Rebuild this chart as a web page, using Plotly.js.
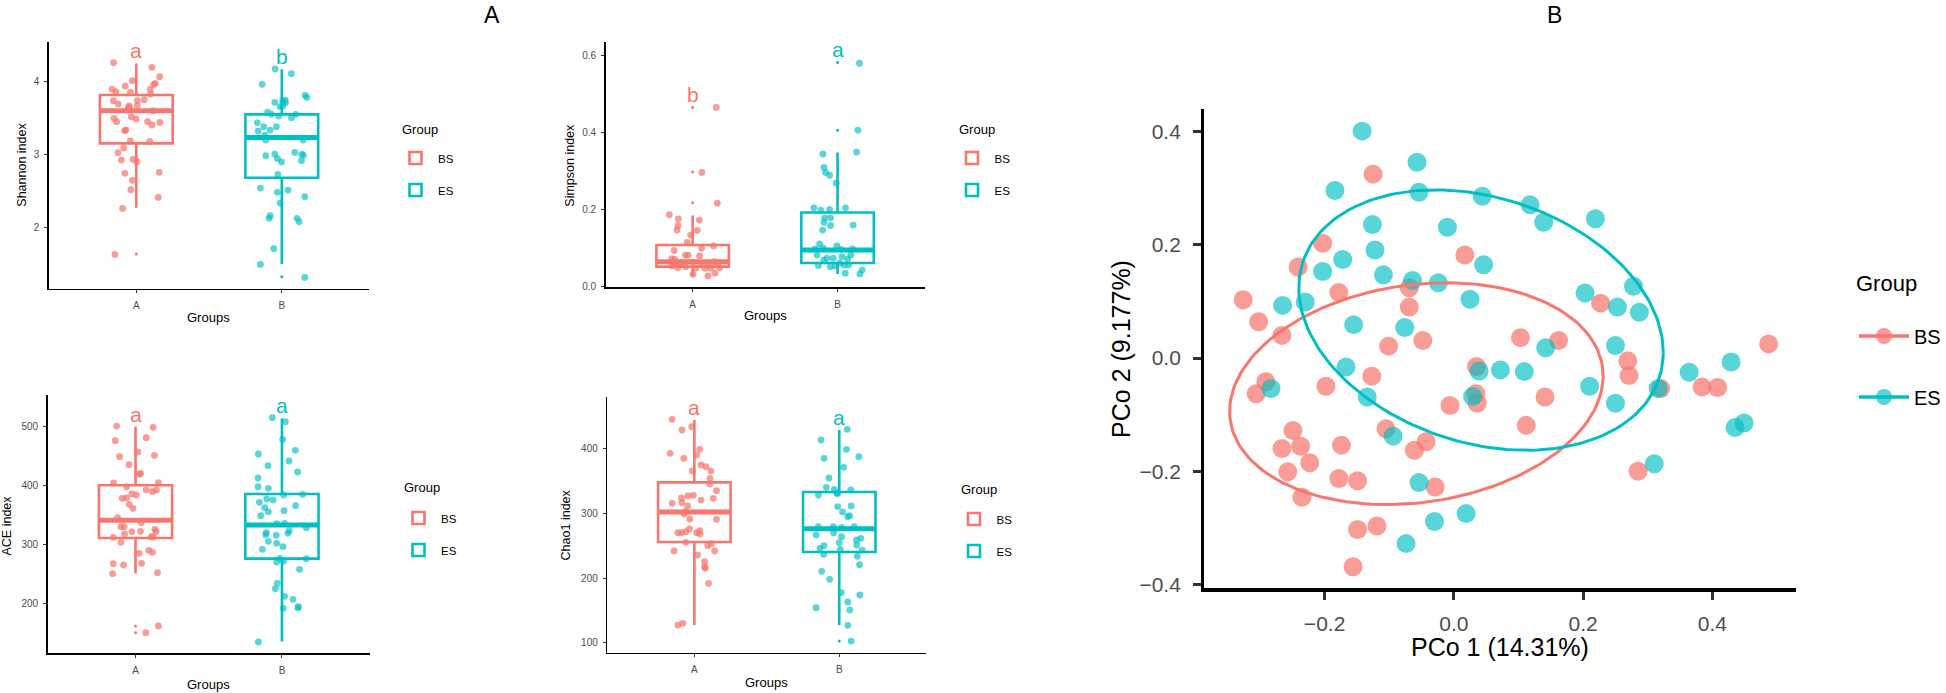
<!DOCTYPE html>
<html><head><meta charset="utf-8">
<script src="https://cdn.plot.ly/plotly-3.0.1.min.js"></script>
<style>html,body{margin:0;padding:0;background:#fff}#chart{width:1946px;height:693px}</style>
</head><body><div id="chart"></div>
<script>
// ---------------- DATA ----------------
const categories = ['A', 'B'];
const groups = ['BS', 'ES'];

// Shannon
const shannonBS = [4.261,4.197,4.069,4.014,3.977,3.959,3.940,3.899,3.863,3.895,3.853,3.831,3.739,3.753,3.739,3.693,3.666,3.666,3.634,3.647,3.602,3.519,3.496,3.451,3.487,3.451,3.441,3.405,3.336,3.327,3.185,3.180,3.089,3.025,2.924,2.933,2.901,2.741,2.755,2.645,2.516,2.411,2.260,1.628];
const shannonBSJitter = [-0.156,0.108,0.160,-0.027,0.130,0.119,-0.076,-0.167,-0.140,0.096,-0.041,0.098,-0.158,0.055,0.007,-0.124,-0.050,0.007,-0.055,-0.046,0.117,-0.034,-0.153,-0.135,0,0.078,0.163,0.108,-0.071,-0.080,-0.041,0.092,-0.087,-0.126,-0.103,-0.023,0.005,-0.078,0.158,-0.027,-0.037,0.151,-0.094,-0.147];
const shannonES = [4.174,4.110,3.963,3.812,3.785,3.716,3.734,3.748,3.712,3.666,3.657,3.583,3.551,3.528,3.551,3.505,3.437,3.382,3.322,3.336,3.382,3.267,3.199,3.199,3.006,2.984,3.029,3.006,2.988,2.942,2.897,2.915,2.727,2.539,2.512,2.480,2.420,2.333,2.159,2.123,2.123,2.077,1.706,1.491,1.312];
const shannonESJitter = [-0.046,0.066,-0.135,0.160,0.172,-0.048,0.005,0.023,0.025,0.007,-0.011,-0.098,-0.071,-0.021,0.096,0.066,-0.169,-0.124,-0.163,-0.080,-0.037,-0.117,-0.110,0.147,-0.048,-0.110,0.089,0.137,0.149,-0.030,-0.002,0.135,-0.027,-0.147,0.043,-0.030,0.158,-0.011,-0.080,-0.087,0.105,0.119,-0.055,-0.147,0.158];
const shannonQ1 = [3.153, 2.681];
const shannonMedian = [3.600, 3.235];
const shannonQ3 = [3.817, 3.551];
const shannonLower = [2.270, 1.495];
const shannonUpper = [4.250, 4.170];
const shannonOutBS = [1.633];
const shannonOutES = [1.320];
const shannonLetters = ['a', 'b'];

// Simpson
const simpsonBS = [0.466,0.297,0.217,0.187,0.176,0.173,0.159,0.147,0.146,0.134,0.115,0.106,0.094,0.100,0.082,0.082,0.080,0.073,0.071,0.063,0.061,0.063,0.064,0.061,0.061,0.065,0.061,0.054,0.049,0.052,0.048,0.048,0.048,0.032,0.028,0.035,0.049];
const simpsonBSJitter = [0.163,0.064,0.170,-0.161,-0.099,0.046,-0.101,-0.108,0.032,-0.014,-0.037,0.144,-0.128,0.062,-0.050,-0.030,0.048,-0.144,-0.122,-0.133,-0.092,-0.067,0,0.060,0.108,0.149,0.172,-0.144,-0.103,-0.048,0.021,0.085,0.124,0.002,0.106,0.154,0.186];
const simpsonES = [0.581,0.407,0.350,0.345,0.310,0.297,0.290,0.269,0.205,0.199,0.201,0.205,0.179,0.179,0.167,0.159,0.160,0.147,0.111,0.106,0.098,0.100,0.097,0.098,0.082,0.074,0.074,0.078,0.082,0.072,0.069,0.061,0.055,0.052,0.054,0.056,0.056,0.043,0.035,0.033];
const simpsonESJitter = [0.151,0.140,0.131,-0.101,-0.094,-0.083,-0.055,-0.009,-0.163,-0.115,-0.055,0.055,-0.089,-0.048,-0.094,-0.048,0.108,-0.103,-0.124,-0.005,-0.156,-0.099,0.023,0.103,-0.142,-0.073,-0.030,0.030,0.092,0.069,-0.096,0.016,-0.133,-0.050,-0.016,0.046,0.076,0.170,0.053,0.154];
const simpsonQ1 = [0.052, 0.0616];
const simpsonMedian = [0.065, 0.095];
const simpsonQ3 = [0.1084, 0.193];
const simpsonLower = [0.028, 0.033];
const simpsonUpper = [0.1847, 0.349];
const simpsonOutBS = [0.466, 0.298, 0.218];
const simpsonOutES = [0.583, 0.407];
const simpsonLetters = ['b', 'a'];

// ACE
const aceBS = [501.1,498.9,481.4,476.3,457.1,451.4,449.2,435.6,420.9,419.2,404.5,405.1,398.3,392.7,389.8,392.7,384.2,385.9,379.1,378.5,368.4,361.6,345.8,330.5,330.5,337.3,322.0,322.6,318.1,326.0,322.0,313.6,313.0,312.4,303.9,285.3,290.4,287.0,267.8,268.4,265.5,250.8,252.5,162.1,150.8];
const aceBSJitter = [-0.129,0.120,0.073,-0.138,0.016,0.129,-0.109,-0.045,0.034,0.027,-0.150,0.156,-0.061,0.073,0.116,0.143,0.005,-0.025,-0.061,-0.091,-0.043,-0.018,-0.122,-0.100,-0.077,0.039,-0.025,0.034,-0.075,0.132,0.141,0.107,0.118,-0.152,-0.100,0.025,0.091,0.116,-0.152,0.041,-0.082,-0.156,0.150,0.156,0.070];
const aceES = [515.3,508.5,478.5,459.9,453.7,441.8,433.9,423.2,413.0,398.3,395.5,384.2,385.3,377.4,375.7,371.8,366.1,362.7,355.9,357.6,349.2,335.6,336.2,320.3,315.8,316.9,319.2,323.7,328.8,305.6,302.3,296.6,292.1,276.8,270.6,272.3,276.3,258.2,234.5,225.4,212.4,207.3,194.9,192.7,192.1,135.0];
const aceESJitter = [-0.066,0.023,0.005,0.091,-0.161,0.048,-0.095,0.107,-0.163,-0.163,-0.093,0.011,0.141,-0.104,-0.061,-0.154,0.093,-0.118,-0.093,0.014,-0.145,-0.036,0.018,-0.107,-0.039,-0.111,0.041,0.050,0.166,-0.093,-0.036,0.007,-0.134,-0.016,-0.036,0.011,0.166,0.120,-0.032,-0.045,0.018,0.075,0.113,0.109,0.009,-0.161];
const aceQ1 = [311.3, 276.3];
const aceMedian = [341.2, 333.3];
const aceQ3 = [400.6, 385.9];
const aceLower = [251.4, 135.6];
const aceUpper = [500.0, 514.0];
const aceOutBS = [162.1, 150.8];
const aceOutES = [];
const aceLetters = ['a', 'a'];

// Chao1
const chaoBS = [445.3,428.8,434.0,399.0,392.8,390.2,385.1,374.8,372.2,365.5,354.2,345.4,365.5,335.2,323.8,326.9,327.9,315.6,316.6,311.5,320.7,323.3,303.2,299.1,291.4,290.9,270.3,270.3,271.9,276.0,273.4,268.2,270.3,255.4,250.2,253.3,242.0,235.8,242.0,225.5,215.2,217.8,192.1,127.7,130.3];
const chaoBSJitter = [-0.153,-0.085,-0.018,0.037,-0.167,0.016,-0.073,0.046,0.080,0.114,0.108,0.108,-0.014,0.153,-0.089,-0.043,-0.007,-0.153,-0.085,-0.046,0.046,0.130,-0.062,-0.071,-0.032,0.153,-0.114,-0.089,-0.059,-0.034,0.037,0.039,0.016,-0.059,0.092,0.117,-0.140,0.021,0.140,0.071,0.076,0.071,0.098,-0.114,-0.080];
const chaoES = [429.9,413.4,399.0,387.6,385.1,371.2,354.7,340.3,337.2,331.0,328.5,336.2,331.0,302.2,311.5,310.4,296.6,295.0,279.6,279.6,278.5,279.6,266.7,270.3,264.1,259.0,261.6,254.9,250.2,246.1,251.3,243.5,236.8,244.6,233.8,220.9,210.6,198.3,177.7,174.1,163.3,154.5,150.9,127.2,103.0];
const chaoESJitter = [0.055,-0.126,0.050,0.135,-0.105,0.030,-0.071,-0.089,-0.034,-0.011,-0.144,0.080,-0.016,0.023,0.082,-0.011,0.071,0.059,-0.144,-0.041,0.016,0.103,-0.160,-0.039,0.016,0.119,0.149,0,-0.105,-0.133,0.121,0.158,-0.108,0.007,0.124,0.140,-0.121,-0.066,0.014,0.142,0.059,-0.160,0.073,0.059,0.082];
const chaoQ1 = [255.9, 240.5];
const chaoMedian = [302.2, 276.5];
const chaoQ3 = [348.0, 333.1];
const chaoLower = [127.7, 127.7];
const chaoUpper = [444.3, 428.8];
const chaoOutBS = [];
const chaoOutES = [103.0];
const chaoLetters = ['a', 'a'];

// PCoA
const pcoaBSx = [-0.125,-0.203,0.017,-0.241,-0.178,-0.069,-0.326,-0.069,-0.302,-0.266,0.103,-0.101,-0.048,0.227,0.162,0.269,0.271,0.320,0.384,0.408,0.487,-0.127,0.035,-0.291,-0.306,-0.198,0.034,0.036,-0.006,0.141,0.112,-0.249,-0.105,-0.266,-0.237,-0.174,-0.043,-0.061,-0.223,-0.257,-0.178,-0.149,-0.029,-0.235,-0.149,-0.119,-0.156,0.285];
const pcoaBSy = [0.325,0.203,0.182,0.161,0.116,0.124,0.103,0.090,0.064,0.040,0.036,0.021,0.031,0.097,0.031,-0.005,-0.031,-0.054,-0.051,-0.052,0.025,-0.032,-0.015,-0.042,-0.063,-0.050,-0.063,-0.080,-0.084,-0.069,-0.119,-0.128,-0.125,-0.160,-0.156,-0.154,-0.148,-0.163,-0.185,-0.201,-0.213,-0.217,-0.228,-0.246,-0.303,-0.297,-0.369,-0.200];
const pcoaESx = [-0.142,-0.057,-0.184,-0.054,0.044,0.118,0.139,-0.126,-0.010,-0.122,-0.172,0.046,-0.203,-0.109,-0.064,-0.024,-0.265,-0.230,0.025,-0.155,-0.076,0.142,0.219,0.278,0.203,0.253,0.287,0.250,0.210,0.250,0.316,0.364,0.429,0.435,0.449,-0.167,0.039,0.072,0.109,-0.283,-0.134,0.029,-0.094,-0.054,0.019,-0.030,-0.074,0.310];
const pcoaESy = [0.401,0.346,0.296,0.293,0.286,0.271,0.240,0.236,0.231,0.191,0.174,0.165,0.153,0.147,0.137,0.133,0.093,0.099,0.104,0.059,0.054,0.018,0.246,0.127,0.115,0.090,0.081,0.022,-0.050,-0.080,-0.054,-0.025,-0.007,-0.123,-0.115,-0.016,-0.023,-0.021,-0.024,-0.054,-0.069,-0.068,-0.138,-0.220,-0.275,-0.289,-0.328,-0.187];
// 95% ellipses: centre [x, y] and covariance [sxx, sxy, syy]
const bsEllipseCenter = [-0.058, -0.063];
const bsEllipseCov = [0.0835, 0.0090, 0.0384];
const esEllipseCenter = [0.042, 0.067];
const esEllipseCov = [0.0795, -0.0161, 0.0529];

// ---------------- STYLE / LAYOUT ----------------
const FONT = 'Arial, "Liberation Sans", Helvetica, sans-serif';
const RED = '#F8766D', TEAL = '#00BFC4';
const RED_A = 'rgba(248,118,109,0.72)', TEAL_A = 'rgba(0,191,196,0.66)';
const W = 1946, H = 693;
const fx = p => p / W, fy = p => 1 - p / H;

const panels = [
  {n:'', yTitle:'Shannon index', xpx:[49,369.3], ypx:[41.7,288.7], yrange:[1.157,4.549], ytv:[2,3,4], ytt:['2','3','4'],
   legend:'legend', yTitlePos:[21.7,165], xTitlePos:[209,317], legTitle:[400,130], legPos:[393,143.5],
   bs:shannonBS, bsj:shannonBSJitter, es:shannonES, esj:shannonESJitter, q1:shannonQ1, med:shannonMedian, q3:shannonQ3, lo:shannonLower, hi:shannonUpper, oBS:shannonOutBS, oES:shannonOutES, let:shannonLetters},
  {n:'2', yTitle:'Simpson index', xpx:[606,925], ypx:[41.7,287.3], yrange:[-0.0017,0.637], ytv:[0,0.2,0.4,0.6], ytt:['0.0','0.2','0.4','0.6'],
   legend:'legend2', yTitlePos:[570,165], xTitlePos:[765.7,316], legTitle:[957,130], legPos:[949.5,143.5],
   bs:simpsonBS, bsj:simpsonBSJitter, es:simpsonES, esj:simpsonESJitter, q1:simpsonQ1, med:simpsonMedian, q3:simpsonQ3, lo:simpsonLower, hi:simpsonUpper, oBS:simpsonOutBS, oES:simpsonOutES, let:simpsonLetters},
  {n:'3', yTitle:'ACE index', xpx:[47.7,370], ypx:[395,653.3], yrange:[115.8,553.7], ytv:[200,300,400,500], ytt:['200','300','400','500'],
   legend:'legend3', yTitlePos:[7.5,525], xTitlePos:[209,684], legTitle:[402,488], legPos:[396,503.5],
   bs:aceBS, bsj:aceBSJitter, es:aceES, esj:aceESJitter, q1:aceQ1, med:aceMedian, q3:aceQ3, lo:aceLower, hi:aceUpper, oBS:aceOutBS, oES:aceOutES, let:aceLetters},
  {n:'4', yTitle:'Chao1 index', xpx:[607.7,926.7], ypx:[397.3,652.7], yrange:[85.0,479.3], ytv:[100,200,300,400], ytt:['100','200','300','400'],
   legend:'legend4', yTitlePos:[566.7,525], xTitlePos:[767,682], legTitle:[959,489], legPos:[951.5,504.5],
   bs:chaoBS, bsj:chaoBSJitter, es:chaoES, esj:chaoESJitter, q1:chaoQ1, med:chaoMedian, q3:chaoQ3, lo:chaoLower, hi:chaoUpper, oBS:chaoOutBS, oES:chaoOutES, let:chaoLetters}
];

const traces = [];
const annotations = [];
const layout = {
  width: W, height: H, margin: {l:0, r:0, t:0, b:0},
  paper_bgcolor: '#fff', plot_bgcolor: 'rgba(0,0,0,0)',
  font: {family: FONT, color: '#000'},
  showlegend: true, hovermode: false
};

const boxAxis = {
  showline: true, linecolor: '#000', linewidth: 1.6, mirror: false,
  ticks: 'outside', ticklen: 3, tickwidth: 1, tickcolor: '#333',
  showgrid: false, zeroline: false, fixedrange: true,
  tickfont: {family: FONT, size: 10, color: '#4D4D4D'}
};

panels.forEach(p => {
  const xa = 'x' + p.n, ya = 'y' + p.n;
  layout['xaxis' + p.n] = Object.assign({}, boxAxis, {
    domain: [fx(p.xpx[0]), fx(p.xpx[1])], anchor: ya, range: [0.4, 2.6],
    tickmode: 'array', tickvals: [1, 2], ticktext: categories, ticklabelstandoff: 4
  });
  layout['yaxis' + p.n] = Object.assign({}, boxAxis, {
    domain: [fy(p.ypx[1]), fy(p.ypx[0])], anchor: xa, range: p.yrange,
    tickmode: 'array', tickvals: p.ytv, ticktext: p.ytt, ticklabelstandoff: 3
  });
  const sets = [
    {g: groups[0], pos: 1, col: RED, colA: RED_A, vals: p.bs, jit: p.bsj, out: p.oBS, i: 0},
    {g: groups[1], pos: 2, col: TEAL, colA: TEAL_A, vals: p.es, jit: p.esj, out: p.oES, i: 1}
  ];
  sets.forEach(s => {
    traces.push({
      type: 'box', xaxis: xa, yaxis: ya, x: [s.pos],
      q1: [p.q1[s.i]], median: [p.med[s.i]], q3: [p.q3[s.i]],
      lowerfence: [p.lo[s.i]], upperfence: [p.hi[s.i]],
      width: 0.5, whiskerwidth: 0, boxpoints: false,
      line: {color: s.col, width: 2.6}, fillcolor: 'rgba(255,255,255,0)',
      name: s.g, legend: p.legend, legendgroup: p.legend + s.g, showlegend: true, hoverinfo: 'skip'
    });
  });
  sets.forEach(s => {
    traces.push({
      type: 'scatter', mode: 'markers', xaxis: xa, yaxis: ya,
      x: s.vals.map((v, k) => s.pos + (s.jit[k] || 0)), y: s.vals,
      marker: {size: 6.8, color: s.colA, line: {width: 0}},
      showlegend: false, hoverinfo: 'skip'
    });
    traces.push({
      type: 'scatter', mode: 'lines', xaxis: xa, yaxis: ya,
      x: [s.pos - 0.25, s.pos + 0.25], y: [p.med[s.i], p.med[s.i]],
      line: {color: s.col, width: 5}, showlegend: false, hoverinfo: 'skip'
    });
    if (s.out.length) {
      traces.push({
        type: 'scatter', mode: 'markers', xaxis: xa, yaxis: ya,
        x: s.out.map(() => s.pos), y: s.out,
        marker: {size: 3, color: s.col}, showlegend: false, hoverinfo: 'skip'
      });
    }
    const top = Math.max(p.hi[s.i], ...s.out);
    annotations.push({
      xref: xa, yref: ya, x: s.pos, y: top, yanchor: 'bottom', xanchor: 'center',
      text: p.let[s.i], showarrow: false, yshift: -1,
      font: {family: FONT, size: 21, color: s.col}
    });
  });
  annotations.push({xref:'paper', yref:'paper', x: fx(p.yTitlePos[0]), y: fy(p.yTitlePos[1]),
    xanchor:'center', yanchor:'middle', textangle: -90, text: p.yTitle, showarrow:false,
    font:{family:FONT, size:12.5, color:'#000'}});
  annotations.push({xref:'paper', yref:'paper', x: fx(p.xTitlePos[0]), y: fy(p.xTitlePos[1]),
    xanchor:'center', yanchor:'middle', text: 'Groups', showarrow:false,
    font:{family:FONT, size:13, color:'#000'}});
  annotations.push({xref:'paper', yref:'paper', x: fx(p.legTitle[0]), y: fy(p.legTitle[1]),
    xanchor:'left', yanchor:'middle', text: 'Group', showarrow:false,
    font:{family:FONT, size:13, color:'#000'}});
  layout[p.legend] = {
    x: fx(p.legPos[0]), y: fy(p.legPos[1]), xanchor: 'left', yanchor: 'top',
    font: {family: FONT, size: 11.5, color: '#000'}, itemwidth: 35,
    bgcolor: 'rgba(0,0,0,0)', borderwidth: 0, tracegroupgap: 13, itemclick: false, itemdoubleclick: false
  };
});

// ---- PCoA panel ----
function ellipse(c, cov) {
  const a = Math.sqrt(cov[0]), b = cov[1] / a, d = Math.sqrt(cov[2] - b * b);
  const xs = [], ys = [];
  for (let k = 0; k <= 180; k++) {
    const t = 2 * Math.PI * k / 180;
    xs.push(c[0] + a * Math.cos(t));
    ys.push(c[1] + b * Math.cos(t) + d * Math.sin(t));
  }
  return {xs, ys};
}
const pxa = {
  showline: true, linecolor: '#000', linewidth: 3.3, mirror: false,
  ticks: 'outside', ticklen: 8, tickwidth: 3, tickcolor: '#333',
  showgrid: false, zeroline: false, fixedrange: true,
  tickfont: {family: FONT, size: 21, color: '#4D4D4D'}
};
layout.xaxis5 = Object.assign({}, pxa, {domain: [fx(1205), fx(1796.7)], anchor: 'y5', range: [-0.386, 0.529],
  tickmode: 'array', tickvals: [-0.2, 0, 0.2, 0.4], ticktext: ['\u22120.2', '0.0', '0.2', '0.4'], ticklabelstandoff: 6});
layout.yaxis5 = Object.assign({}, pxa, {domain: [fy(588.3), fy(109.3)], anchor: 'x5', range: [-0.407, 0.4396],
  tickmode: 'array', tickvals: [-0.4, -0.2, 0, 0.2, 0.4], ticktext: ['\u22120.4', '\u22120.2', '0.0', '0.2', '0.4'], ticklabelstandoff: 8});

traces.push({type:'scatter', mode:'markers', xaxis:'x5', yaxis:'y5', x: pcoaBSx, y: pcoaBSy,
  marker:{size:19, color: RED_A, line:{width:0}}, showlegend:false, hoverinfo:'skip'});
traces.push({type:'scatter', mode:'markers', xaxis:'x5', yaxis:'y5', x: pcoaESx, y: pcoaESy,
  marker:{size:19, color: TEAL_A, line:{width:0}}, showlegend:false, hoverinfo:'skip'});
const eBS = ellipse(bsEllipseCenter, bsEllipseCov), eES = ellipse(esEllipseCenter, esEllipseCov);
traces.push({type:'scatter', mode:'lines', xaxis:'x5', yaxis:'y5', x: eBS.xs, y: eBS.ys,
  line:{color: RED, width: 3}, showlegend:false, hoverinfo:'skip'});
traces.push({type:'scatter', mode:'lines', xaxis:'x5', yaxis:'y5', x: eES.xs, y: eES.ys,
  line:{color: TEAL, width: 3}, showlegend:false, hoverinfo:'skip'});
// legend-only entries
[[groups[0], RED, RED_A], [groups[1], TEAL, TEAL_A]].forEach(([g, c, ca]) => {
  traces.push({type:'scatter', mode:'lines+markers', xaxis:'x5', yaxis:'y5', x:[null], y:[null],
    name: g, legend:'legend5', legendgroup:'p' + g, line:{color: c, width: 3.5},
    marker:{size: 19, color: ca}, hoverinfo:'skip'});
});
layout.legend5 = {
  x: fx(1855), y: fy(316.5), xanchor:'left', yanchor:'top',
  font: {family:FONT, size:20, color:'#000'}, itemwidth: 50, itemsizing: 'trace',
  bgcolor:'rgba(0,0,0,0)', tracegroupgap: 32, itemclick:false, itemdoubleclick:false
};
annotations.push({xref:'paper', yref:'paper', x: fx(1855), y: fy(283), xanchor:'left', yanchor:'middle',
  text:'Group', showarrow:false, font:{family:FONT, size:22, color:'#000'}});
annotations.push({xref:'paper', yref:'paper', x: fx(1500.8), y: fy(646.7), xanchor:'center', yanchor:'middle',
  text:'PCo 1 (14.31%)', showarrow:false, font:{family:FONT, size:25, color:'#000'}});
annotations.push({xref:'paper', yref:'paper', x: fx(1121.7), y: fy(348.8), xanchor:'center', yanchor:'middle',
  textangle:-90, text:'PCo 2 (9.177%)', showarrow:false, font:{family:FONT, size:25, color:'#000'}});

// Panel labels
annotations.push({xref:'paper', yref:'paper', x: fx(492.7), y: 1, xanchor:'center', yanchor:'top',
  text:'A', showarrow:false, font:{family:FONT, size:23, color:'#000'}});
annotations.push({xref:'paper', yref:'paper', x: fx(1555), y: 1, xanchor:'center', yanchor:'top',
  text:'B', showarrow:false, font:{family:FONT, size:23, color:'#000'}});

layout.annotations = annotations;
Plotly.newPlot('chart', traces, layout, {staticPlot: true, displayModeBar: false});
</script></body></html>
